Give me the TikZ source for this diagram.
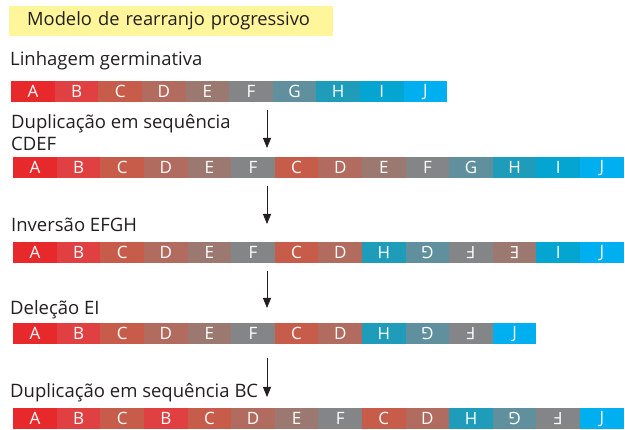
\documentclass[tikz,border=0pt]{standalone}
\usepackage{fontspec}
\usepackage{graphicx}
\setmainfont{Open Sans}
\usetikzlibrary{arrows.meta}
\definecolor{cA}{HTML}{E8292B}
\definecolor{cB}{HTML}{E04041}
\definecolor{cC}{HTML}{C85C4A}
\definecolor{cD}{HTML}{B26B5F}
\definecolor{cE}{HTML}{9C7970}
\definecolor{cF}{HTML}{838586}
\definecolor{cG}{HTML}{60909D}
\definecolor{cH}{HTML}{1F9CB9}
\definecolor{cI}{HTML}{05A5D1}
\definecolor{cJ}{HTML}{00AFEF}
\definecolor{ttl}{HTML}{FFF59A}
\definecolor{ink}{HTML}{231F20}
\newcommand\genrow[4]{%
  \foreach \L/\r [count=\i from 0] in {#4} {
    \node[blk, fill=c\L] (#1-\i) at ({#2+\i*43.6},#3)
      {\ifnum\r=1 \rotatebox[origin=c]{180}{\L}\else\L\fi};
  }}
\begin{document}
\begin{tikzpicture}[x=1pt,y=-1pt,
  blk/.style={anchor=north west, minimum width=43.6pt, minimum height=21pt,
    inner sep=0pt, text=white, font=\fontsize{17}{17}\selectfont},
  lbl/.style={anchor=base west, inner sep=0pt, text=ink,
    font=\fontsize{18.5}{18.5}\selectfont},
  arr/.style={draw=ink, line width=0.9pt, -{Triangle[length=10pt,width=8pt]}}]
\useasboundingbox (0,0) rectangle (625,430);
\node[fill=ttl, anchor=north west, minimum width=324pt, minimum height=30pt,
  inner xsep=18pt, inner ysep=0pt, text width=288pt, align=left, text=ink,
  font=\fontsize{18.3}{18.3}\selectfont] (title) at (9,6) {Modelo de rearranjo progressivo};
\node[lbl] (l1) at (10,66) {Linhagem germinativa};
\genrow{r1}{11}{81}{A/0,B/0,C/0,D/0,E/0,F/0,G/0,H/0,I/0,J/0}
\node[lbl] (l2a) at (11,129) {Duplicação em sequência};
\node[lbl] (l2b) at (11,151) {CDEF};
\genrow{r2}{13}{157}{A/0,B/0,C/0,D/0,E/0,F/0,C/0,D/0,E/0,F/0,G/0,H/0,I/0,J/0}
\node[lbl] (l3) at (11,232) {Inversão EFGH};
\genrow{r3}{13}{242}{A/0,B/0,C/0,D/0,E/0,F/0,C/0,D/0,H/1,G/1,F/1,E/1,I/0,J/0}
\node[lbl] (l4) at (10,315) {Deleção EI};
\genrow{r4}{13}{323}{A/0,B/0,C/0,D/0,E/0,F/0,C/0,D/0,H/1,G/1,F/1,J/0}
\node[lbl] (l5) at (10,398) {Duplicação em sequência BC};
\genrow{r5}{13}{408}{A/0,B/0,C/0,B/0,C/0,D/0,E/0,F/0,C/0,D/0,H/1,G/1,F/1,J/0}
\coordinate (a1s) at (267,110); \coordinate (a1e) at (267,148);
\coordinate (a2s) at (267,186); \coordinate (a2e) at (267,224);
\coordinate (a3s) at (267,271); \coordinate (a3e) at (267,308);
\coordinate (a4s) at (267,358); \coordinate (a4e) at (267,397);
\draw[arr] (a1s) -- (a1e);
\draw[arr] (a2s) -- (a2e);
\draw[arr] (a3s) -- (a3e);
\draw[arr] (a4s) -- (a4e);
\end{tikzpicture}
\end{document}
